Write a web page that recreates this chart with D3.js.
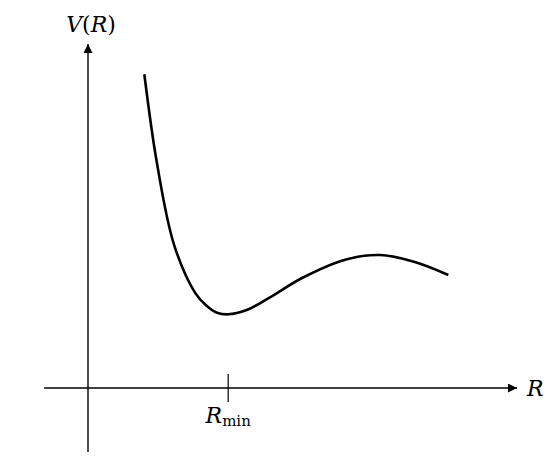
<!DOCTYPE html>
<html><head><meta charset="utf-8">
<script src="https://cdn.jsdelivr.net/npm/d3@7/dist/d3.min.js"></script>
<style>body{margin:0;background:#fff}</style>
</head><body>
<script>
// Potential curve samples (R, V) in arbitrary units
const rValues = [1.31, 1.6, 2.0, 2.5, 2.75, 3.0, 3.26, 3.69, 4.2, 5.0, 6.0, 6.79, 7.6, 8.38];
const vValues = [9.12, 6.56, 4.17, 2.75, 2.40, 2.19, 2.142, 2.267, 2.612, 3.212, 3.737, 3.866, 3.664, 3.285];
const rMin = 3.26;
const xLabel = "R", tickLabel = "R", tickSub = "min";

const FONT = "'DejaVu Serif','Liberation Serif','Times New Roman',serif";
const W = 554, H = 464;
const svg = d3.select("body").append("svg").attr("width", W).attr("height", H);
const x = d3.scaleLinear().domain([0, 10]).range([88, 518]);
const y = d3.scaleLinear().domain([0, 10]).range([388, 44]);

const defs = svg.append("defs");
defs.append("marker").attr("id","arr").attr("viewBox","0 0 10 10").attr("refX",10).attr("refY",5)
  .attr("markerWidth",11).attr("markerHeight",9).attr("markerUnits","userSpaceOnUse").attr("orient","auto")
  .append("path").attr("d","M0,0 L10,5 L0,10 Z").attr("fill","#000");

svg.append("line").attr("x1", x(-1.02)).attr("x2", x(10) - 1).attr("y1", y(0)).attr("y2", y(0))
  .attr("stroke","#000").attr("stroke-width",1.4).attr("marker-end","url(#arr)");
svg.append("line").attr("x1", x(0)).attr("x2", x(0)).attr("y1", y(-1.86)).attr("y2", y(10))
  .attr("stroke","#000").attr("stroke-width",1.4).attr("marker-end","url(#arr)");

svg.append("line").attr("x1", x(rMin)).attr("x2", x(rMin)).attr("y1", y(0) - 14).attr("y2", y(0) + 14)
  .attr("stroke","#000").attr("stroke-width",1.2);

const pts = rValues.map((r,i)=>[r, vValues[i]]);
svg.append("path").datum(pts)
  .attr("d", d3.line().x(d=>x(d[0])).y(d=>y(d[1])).curve(d3.curveCatmullRom.alpha(0.5)))
  .attr("fill","none").attr("stroke","#000").attr("stroke-width",2.6);

const t1 = svg.append("text").attr("x", x(rMin)).attr("y", y(0) + 35).attr("text-anchor","middle")
  .attr("font-size",22).attr("font-family",FONT);
t1.append("tspan").attr("font-style","italic").text(tickLabel);
t1.append("tspan").attr("font-size",15).attr("dy",3).text(tickSub);

svg.append("text").attr("x", 527).attr("y", y(0) + 8).attr("font-size",22).attr("font-family",FONT)
  .attr("font-style","italic").text(xLabel);

const t3 = svg.append("text").attr("x", 91).attr("y", 32).attr("text-anchor","middle")
  .attr("font-size",22).attr("font-family",FONT);
t3.append("tspan").attr("font-style","italic").text("V");
t3.append("tspan").text("(");
t3.append("tspan").attr("font-style","italic").text("R");
t3.append("tspan").text(")");
</script>
</body></html>
